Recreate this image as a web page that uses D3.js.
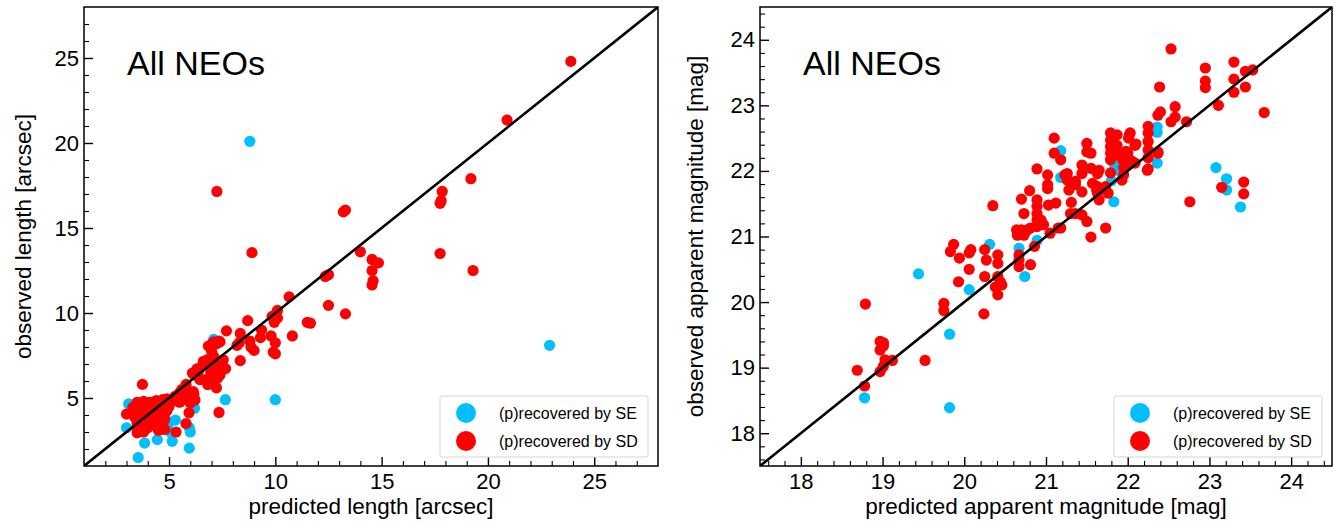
<!DOCTYPE html>
<html>
<head>
<meta charset="utf-8">
<script src="https://cdn.jsdelivr.net/npm/d3@7"></script>
<style>
  body { margin: 0; background: #fff; }
  svg { display: block; }
  text { font-family: "Liberation Sans", Arial, sans-serif; fill: #000; }
</style>
</head>
<body>
<svg id="chart" width="1344" height="522"></svg>
<script>
// predicted vs observed trail length [arcsec], (p)recovered by SE
const lengthSE = [
  [8.8, 20.1], [22.9, 8.1], [10.0, 4.9], [7.65, 4.9], [7.1, 8.45], [6.2, 4.4],
  [5.95, 3.25], [5.95, 2.05], [5.15, 2.45], [4.45, 2.55], [3.85, 2.35], [3.55, 1.5],
  [3.1, 4.65], [3.0, 3.25], [5.0, 3.55], [5.1, 2.95], [4.8, 3.95], [4.9, 3.3],
  [6.0, 3.0], [5.3, 3.7]
]
// predicted vs observed trail length [arcsec], (p)recovered by SD
const lengthSD = [
  [23.9, 24.8], [20.9, 21.35], [19.2, 17.9], [17.85, 17.15], [17.8, 16.6], [17.75, 16.45],
  [17.75, 13.5], [19.3, 12.5], [7.25, 17.15], [13.3, 16.05], [13.2, 15.95], [8.9, 13.55],
  [14.0, 13.6], [14.55, 13.15], [14.85, 12.95], [14.55, 12.5], [14.6, 11.9], [14.55, 11.65],
  [12.35, 12.15], [12.5, 12.25], [12.5, 10.45], [13.3, 9.95], [10.65, 10.95], [10.1, 10.15],
  [10.0, 9.9], [10.1, 9.7], [9.85, 9.8], [9.95, 9.45], [8.7, 9.55], [7.7, 8.95],
  [8.35, 8.8], [9.35, 9.0], [9.3, 8.55], [9.8, 8.65], [10.8, 8.65], [11.5, 9.45],
  [11.65, 9.4], [8.8, 8.35], [8.85, 8.0], [9.0, 7.8], [8.2, 8.1], [8.3, 8.25],
  [8.35, 7.2], [10.0, 8.25], [9.9, 7.7], [10.0, 7.6], [7.35, 8.35], [7.05, 8.2],
  [6.85, 8.05], [6.95, 8.1], [7.1, 8.3], [7.25, 8.2], [7.4, 8.3], [7.0, 7.75],
  [7.1, 7.45], [6.1, 6.47], [6.31, 6.71], [6.45, 6.08], [6.62, 7.16], [6.82, 7.26],
  [7.07, 7.41], [7.33, 7.06], [7.15, 6.87], [6.96, 6.51], [7.56, 6.77], [7.66, 6.73],
  [6.82, 6.08], [7.03, 5.98], [7.29, 6.18], [6.64, 6.08], [6.82, 5.79], [7.23, 5.6],
  [7.55, 7.25], [7.4, 6.35], [6.2, 6.35], [6.4, 6.65], [6.6, 7.05], [7.3, 6.65],
  [5.6, 5.5], [5.8, 5.8], [6.17, 5.2], [6.2, 4.9], [5.94, 4.13], [5.8, 3.5],
  [5.33, 3.0], [6.0, 4.7], [5.49, 5.3], [5.29, 5.1], [5.75, 5.27], [5.99, 5.08],
  [6.22, 4.88], [6.14, 5.37], [3.75, 5.8], [3.0, 4.05], [7.35, 4.15],
  [3.5, 4.75], [3.8, 4.8], [4.1, 4.75], [4.4, 4.85], [4.7, 4.9], [4.9, 4.95],
  [5.1, 4.9], [5.3, 4.85], [3.3, 4.45], [3.6, 4.5], [3.9, 4.4], [4.2, 4.5],
  [4.5, 4.45], [4.8, 4.6], [5.0, 4.5], [5.5, 4.75], [5.8, 4.9], [3.4, 4.15],
  [3.7, 4.2], [4.0, 4.1], [4.3, 4.15], [4.6, 4.2], [4.9, 4.25], [3.4, 3.85],
  [3.6, 3.9], [3.9, 3.8], [4.2, 3.9], [4.5, 3.85], [4.8, 3.75], [3.5, 3.5],
  [3.8, 3.55], [4.1, 3.5], [4.4, 3.45], [4.7, 3.5], [3.5, 3.2], [3.7, 3.15],
  [4.0, 3.25], [4.5, 3.1], [4.8, 3.15], [3.5, 2.95], [3.8, 3.0]
]
// predicted vs observed apparent magnitude [mag], (p)recovered by SE
const magSE = [
  [18.78, 18.54], [19.82, 18.39], [19.82, 19.51], [19.44, 20.43], [20.06, 20.19], [20.31, 20.88],
  [20.67, 20.82], [20.74, 20.39], [20.89, 20.94], [21.18, 22.31], [21.18, 21.9], [21.83, 21.53],
  [21.84, 22.09], [22.36, 22.67], [22.36, 22.59], [22.36, 22.12], [23.08, 22.05], [23.21, 21.88],
  [23.21, 21.71], [23.38, 21.45], [21.8, 21.85], [21.9, 22.0]
]
// predicted vs observed apparent magnitude [mag], (p)recovered by SD
const magSD = [
  [22.53, 23.86], [22.95, 23.57], [22.95, 23.37], [22.95, 23.27], [23.3, 23.66], [23.3, 23.4],
  [23.3, 23.2], [23.44, 23.52], [23.53, 23.54], [23.44, 23.28], [23.11, 23.0], [23.67, 22.89],
  [22.39, 23.28], [22.37, 22.85], [22.4, 22.9], [22.58, 22.98], [22.53, 22.75], [22.58, 22.82],
  [22.72, 22.75], [22.76, 21.53], [23.15, 21.75], [23.42, 21.83], [23.42, 21.65],
  [22.25, 22.68], [22.25, 22.58], [22.25, 22.45], [22.25, 22.32], [22.25, 22.2], [22.25, 22.03],
  [22.37, 22.29], [22.1, 22.41], [22.03, 22.58], [22.01, 22.5], [22.09, 22.12], [22.0, 22.2],
  [21.98, 22.3], [21.95, 22.05], [22.05, 22.15], [21.79, 22.58], [21.79, 22.47], [21.79, 22.37],
  [21.79, 22.27], [21.79, 22.17], [21.79, 21.97], [21.87, 22.55], [21.87, 22.39], [21.89, 22.24],
  [21.94, 22.17], [21.97, 22.06], [21.93, 21.86], [21.95, 21.94], [22.0, 22.27],
  [21.65, 22.01], [21.63, 21.96], [21.63, 21.76], [21.63, 21.66], [21.65, 21.56], [21.57, 21.81],
  [21.62, 21.71], [21.55, 22.04], [21.73, 21.76], [21.76, 21.66], [21.5, 22.42], [21.5, 22.29],
  [21.55, 22.27], [21.44, 22.09], [21.44, 21.96], [21.44, 21.68], [21.26, 21.96], [21.26, 21.86],
  [21.31, 21.79], [21.28, 21.71], [21.36, 21.84], [21.36, 21.79], [21.1, 22.5], [21.1, 22.27],
  [21.18, 22.17], [21.23, 21.94], [21.02, 21.94], [21.02, 21.79], [21.02, 21.73], [20.89, 22.03],
  [20.8, 21.7], [20.7, 21.57], [20.73, 21.35], [20.89, 21.56], [20.89, 21.46], [20.89, 21.35],
  [20.89, 21.25], [20.89, 21.15], [20.94, 21.25], [20.97, 21.18], [21.03, 21.48], [21.12, 21.51],
  [21.31, 21.52], [21.3, 21.35], [21.36, 21.35], [21.44, 21.33], [21.5, 21.23], [21.05, 21.05],
  [21.15, 21.13], [21.18, 21.13], [21.55, 20.99], [21.73, 21.13], [20.64, 21.1], [20.7, 21.1],
  [20.65, 21.02], [20.73, 21.02], [20.77, 21.1], [20.81, 21.13], [20.67, 20.72], [20.67, 20.64],
  [20.67, 20.54], [20.81, 20.57], [20.86, 20.85], [20.35, 21.47], [20.25, 20.8], [20.27, 20.64],
  [20.25, 20.39], [20.41, 20.72], [20.41, 20.59], [20.41, 20.39], [20.44, 20.31], [20.46, 20.26],
  [20.41, 20.11], [20.38, 20.23], [20.24, 19.82], [20.06, 20.5], [20.06, 20.75], [20.08, 20.8],
  [19.94, 20.67], [19.93, 20.31], [19.83, 20.77], [19.87, 20.88], [19.75, 19.98], [19.75, 19.87],
  [19.52, 19.11], [19.12, 19.11], [18.97, 19.4], [19.01, 19.38], [18.97, 19.27], [19.01, 19.33],
  [18.97, 18.94], [19.01, 19.02], [19.03, 19.12], [18.79, 19.97], [18.78, 18.72], [18.69, 18.96],
  [22.37, 22.27], [22.09, 22.39], [22.02, 22.55], [22.24, 22.01]
]

const lengthDomain = [1, 28]
const lengthTicks = [5, 10, 15, 20, 25]
const magDomain = [17.5, 24.5]
const magTicks = [18, 19, 20, 21, 22, 23, 24]

const legendLabels = ["(p)recovered by SE", "(p)recovered by SD"]
const colors = ["#00bfff", "#ff0000"]

const svg = d3.select("#chart")

function drawPanel(opts) {
    const { left, right, top, bottom } = opts
    const x = d3.scaleLinear().domain(opts.domain).range([left, right])
    const y = d3.scaleLinear().domain(opts.domain).range([bottom, top])
    const g = svg.append("g")

    const clipId = "clip-" + opts.id
    g.append("clipPath").attr("id", clipId)
        .append("rect")
        .attr("x", left).attr("y", top)
        .attr("width", right - left).attr("height", bottom - top)

    // minor ticks
    const minorX = d3.axisBottom(x).tickValues(opts.minor).tickSize(-5).tickFormat("")
    const minorY = d3.axisLeft(y).tickValues(opts.minor).tickSize(-5).tickFormat("")
    g.append("g").attr("transform", `translate(0,${bottom})`).call(minorX)
    g.append("g").attr("transform", `translate(${left},0)`).call(minorY)

    // major ticks
    const fmt = d3.format("d")
    const xAxis = d3.axisBottom(x).tickValues(opts.ticks).tickFormat(fmt).tickSize(-9).tickPadding(7)
    const yAxis = d3.axisLeft(y).tickValues(opts.ticks).tickFormat(fmt).tickSize(-9).tickPadding(5)
    g.append("g").attr("class", "major").attr("transform", `translate(0,${bottom})`).call(xAxis)
    g.append("g").attr("class", "major").attr("transform", `translate(${left},0)`).call(yAxis)

    g.selectAll(".domain").remove()
    g.selectAll(".tick line").attr("stroke", "#000").attr("stroke-width", 1.1)
    g.selectAll(".major .tick line").attr("stroke-width", 1.4)
    g.selectAll(".tick text").style("font-size", "22px")

    // points: SE first, SD on top
    const plot = g.append("g").attr("clip-path", `url(#${clipId})`)
    opts.series.forEach((data, i) => {
        plot.append("g")
            .selectAll("circle")
            .data(data)
            .join("circle")
            .attr("cx", d => x(d[0]))
            .attr("cy", d => y(d[1]))
            .attr("r", 5.6)
            .attr("fill", colors[i])
    })

    // one-to-one line
    const line = d3.line().x(d => x(d)).y(d => y(d))
    plot.append("path")
        .attr("d", line(opts.domain))
        .attr("stroke", "#000")
        .attr("stroke-width", 2.6)
        .attr("fill", "none")

    // frame
    g.append("rect")
        .attr("x", left).attr("y", top)
        .attr("width", right - left).attr("height", bottom - top)
        .attr("fill", "none").attr("stroke", "#000").attr("stroke-width", 1.5)

    g.append("text")
        .attr("x", left + 43).attr("y", 75)
        .style("font-size", "34px")
        .text("All NEOs")

    g.append("text")
        .attr("x", (left + right) / 2).attr("y", 514)
        .attr("text-anchor", "middle")
        .style("font-size", "22.5px")
        .text(opts.xLabel)

    g.append("text")
        .attr("transform", `translate(${opts.yLabelX},${(top + bottom) / 2}) rotate(-90)`)
        .attr("text-anchor", "middle")
        .style("font-size", "22.5px")
        .text(opts.yLabel)

    // legend
    const lg = g.append("g").attr("transform", `translate(${right - 218},396)`)
    lg.append("rect")
        .attr("width", 208).attr("height", 61)
        .attr("rx", 2)
        .attr("fill", "#fff").attr("stroke", "#d4d4d4").attr("stroke-width", 1)
    legendLabels.forEach((label, i) => {
        lg.append("circle").attr("cx", 26).attr("cy", 17 + i * 28)
            .attr("r", 10).attr("fill", colors[i])
        lg.append("text").attr("x", 59).attr("y", 17 + i * 28).attr("dy", "0.35em")
            .style("font-size", "16px")
            .text(label)
    })
}

drawPanel({
    id: "length",
    left: 84, right: 658, top: 7, bottom: 466,
    domain: lengthDomain,
    ticks: lengthTicks,
    minor: d3.range(2, 28).filter(v => v % 5 !== 0),
    series: [lengthSE, lengthSD],
    xLabel: "predicted length [arcsec]",
    yLabel: "observed length [arcsec]",
    yLabelX: 31
})

drawPanel({
    id: "mag",
    left: 760, right: 1332, top: 7, bottom: 466,
    domain: magDomain,
    ticks: magTicks,
    minor: d3.range(176, 245, 2).map(v => v / 10).filter(v => Math.abs(v - Math.round(v)) > 0.01),
    series: [magSE, magSD],
    xLabel: "predicted apparent magnitude [mag]",
    yLabel: "observed apparent magnitude [mag]",
    yLabelX: 703
})
</script>
</body>
</html>
